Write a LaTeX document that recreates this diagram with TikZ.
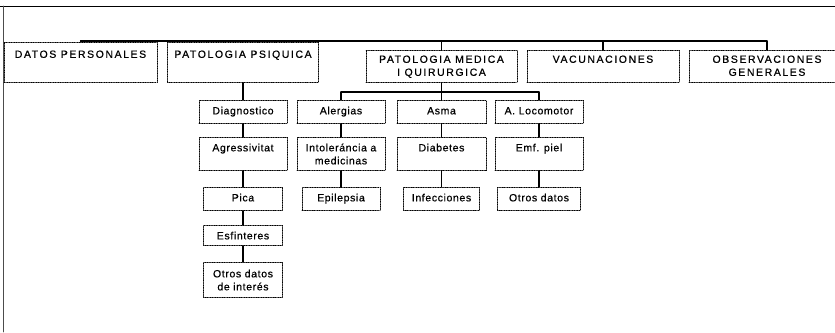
\documentclass[tikz,border=0pt]{standalone}
\usepackage{fontspec}
\setmainfont{Liberation Sans}[LetterSpace=6, FakeBold=0.6]
\newfontfamily\capsfont{Liberation Sans}[LetterSpace=15, FakeBold=0.6]
\tikzset{
  box/.style={draw, densely dotted, line width=0.7pt, inner sep=0pt, anchor=north},
  topbox/.style={box, font=\capsfont\fontsize{10.5}{13}\selectfont},
  link/.style={line width=1.1pt}
}
\begin{document}
\begin{tikzpicture}[x=1pt, y=-1pt, font=\fontsize{10.5}{13}\selectfont, line cap=round]
			\useasboundingbox (0,0) rectangle (835,332);
			% marco
			\draw[line width=1pt] (0,6)--(835,6);
			\draw[gray!60!black, line width=0.8pt] (3.5,6)--(3.5,332);
			% cajas: nombre/x/y/ancho/alto/margen/texto
			\foreach \nom/\x/\y/\w/\h/\st/\txt in {
				datos/80.5/42/153/40/15.5/{DATOS PERSONALES},
				psiquica/243/42/151/40/15.5/{PATOLOGIA PSIQUICA},
				medica/441.5/50/151/32/12.5/{PATOLOGIA MEDICA\\I QUIRURGICA},
				vacunas/603/50/152/32/12.5/{VACUNACIONES},
				observ/767/50/156/32/12.5/{OBSERVACIONES\\GENERALES}}{
				\node[topbox] (\nom) at (\x,\y) {\parbox[t][\h pt][t]{\w pt}{\centering\rule{0pt}{\st pt}\txt}};
			}
			\foreach \nom/\x/\y/\w/\h/\st/\txt in {
				diag/243/100/88/23/14/{Diagnostico},
				alerg/341/100/88/23/14/{Alergias},
				asma/441.5/100/89/23/14/{Asma},
				loco/539/100/88/23/14/{A. Locomotor},
				agres/243/137/88/33/14/{Agressivitat},
				intol/341/137/88/33/14/{Intoleráncia a\\medicinas},
				diab/441.5/137/89/33/14/{Diabetes},
				emf/539/137/88/33/14/{Emf. piel},
				pica/243/187/79/23/14/{Pica},
				epil/341/187/78/23/14/{Epilepsia},
				infec/441.5/187/76/23/14/{Infecciones},
				otros/539/187/83/23/14/{Otros datos},
				esfin/243/225/79/20/14/{Esfinteres},
				interes/243/262/79/35/15/{Otros datos\\de interés}}{
				\node[box] (\nom) at (\x,\y) {\parbox[t][\h pt][t]{\w pt}{\centering\rule{0pt}{\st pt}\txt}};
			}
			% conectores
			\coordinate (bus1) at (0,41);
			\coordinate (bus2) at (0,92);
			\foreach \nom in {datos,psiquica,medica,vacunas,observ}{
				\draw[link] (\nom.north)--(\nom.north |- bus1);
			}
			\draw[link] (datos.north |- bus1)--(observ.north |- bus1);
			\draw[link] (medica.south)--(medica.south |- bus2);
			\foreach \nom in {alerg,asma,loco}{
				\draw[link] (\nom.north)--(\nom.north |- bus2);
			}
			\draw[link] (alerg.north |- bus2)--(loco.north |- bus2);
			\draw[link] (psiquica.south)--(diag.north);
			\foreach \a/\b in {diag/agres,agres/pica,pica/esfin,esfin/interes,alerg/intol,intol/epil,asma/diab,diab/infec,loco/emf,emf/otros}{
				\draw[link] (\a)--(\b);
			}
		\end{tikzpicture}
\end{document}
